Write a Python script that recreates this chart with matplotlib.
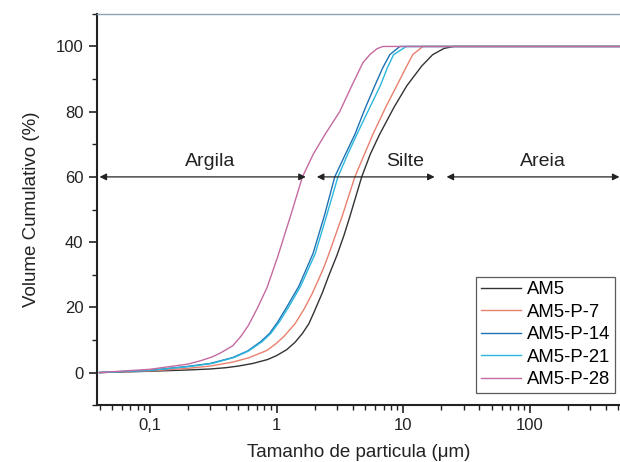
import matplotlib
matplotlib.use("Agg")
import matplotlib.pyplot as plt
from matplotlib.ticker import FixedLocator, LogLocator, MultipleLocator, NullFormatter

plt.rcParams['font.family'] = ['Liberation Sans', 'DejaVu Sans']

# Data (size in µm, cumulative volume %)
am5_x = [0.04, 0.1, 0.2, 0.3, 0.4, 0.5, 0.65, 0.85, 1.0, 1.2, 1.4, 1.6, 1.8, 2.0, 2.3, 2.6, 3.0, 3.4, 3.8, 4.7, 5.5, 6.5, 8.5, 10.7, 14.0, 17.1, 21.0, 25.0, 510]
am5_y = [0, 0.4, 0.8, 1.1, 1.5, 2.0, 2.8, 4.0, 5.2, 7.0, 9.3, 12.0, 15.0, 19, 24.5, 30, 36, 42, 48, 60, 67, 73, 81.5, 88, 94, 97.5, 99.4, 100, 100]

p7_x = [0.04, 0.1, 0.2, 0.3, 0.45, 0.6, 0.84, 1.0, 1.15, 1.4, 1.65, 1.9, 2.32, 2.54, 3.3, 4.15, 5.75, 7.3, 8.9, 10.5, 11.9, 14.3, 510]
p7_y = [0, 0.5, 1.3, 2.0, 3.2, 4.5, 6.8, 9.0, 11.2, 15, 19.5, 24, 31.5, 35.5, 48, 60, 73, 81.5, 88, 93.5, 97.5, 100, 100]

p14_x = [0.04, 0.1, 0.2, 0.3, 0.45, 0.59, 0.75, 0.88, 1.02, 1.2, 1.5, 1.94, 2.4, 2.88, 3.5, 4.15, 5.0, 5.97, 6.9, 7.84, 9.4, 510]
p14_y = [0, 0.7, 1.9, 2.8, 4.6, 6.6, 9.5, 12, 15.5, 20, 26.5, 36.5, 48.5, 60, 67, 73, 81, 88, 93.5, 97.5, 100, 100]

p21_x = [0.04, 0.1, 0.2, 0.31, 0.46, 0.6, 0.77, 0.9, 1.05, 1.24, 1.55, 2.02, 2.5, 3.05, 3.65, 4.3, 5.4, 6.6, 7.5, 8.4, 10.6, 510]
p21_y = [0, 0.7, 1.8, 2.8, 4.6, 6.6, 9.5, 12, 15.5, 20, 26.5, 36.5, 48.5, 60, 67, 73, 81, 88, 93.5, 97.5, 100, 100]

p28_x = [0.04, 0.1, 0.2, 0.25, 0.31, 0.36, 0.45, 0.52, 0.6, 0.7, 0.84, 1.02, 1.3, 1.6, 1.95, 2.41, 3.15, 3.93, 4.8, 5.45, 6.2, 6.9, 510]
p28_y = [0, 1.0, 2.6, 3.6, 4.8, 6.0, 8.2, 11, 14.5, 19.5, 26, 35.5, 48.5, 60, 67, 73, 80, 88, 95, 97.5, 99.3, 100, 100]

series_names = ['AM5', 'AM5-P-7', 'AM5-P-14', 'AM5-P-21', 'AM5-P-28']
series_x = [am5_x, p7_x, p14_x, p21_x, p28_x]
series_y = [am5_y, p7_y, p14_y, p21_y, p28_y]
colors = ['#333333', '#e8806e', '#1f72b4', '#2ab6dc', '#c46aa0']

xticks = [0.1, 1, 10, 100]
xticklabels = ['0,1', '1', '10', '100']
yticks = [0, 20, 40, 60, 80, 100]

# Size class ranges (µm)
classes = ['Argila', 'Silte', 'Areia']
class_ranges = [(0.04, 1.7), (2.08, 17.7), (22.0, 510)]
class_text_x = [0.30, 10.3, 126]
class_level = 60

fig = plt.figure(figsize=(6.2, 4.62), dpi=100)
ax = fig.add_axes([0.156, 0.123, 0.844, 0.847])

for name, xs, ys, c in zip(series_names, series_x, series_y, colors):
    ax.plot(xs, ys, color=c, lw=1.0, label=name)

ax.set_xscale('log')
ax.set_xlim(0.038, 515)
ax.set_ylim(-10, 110)

ax.xaxis.set_major_locator(FixedLocator(xticks))
ax.set_xticklabels(xticklabels)
ax.xaxis.set_minor_locator(LogLocator(base=10, subs=[2, 3, 4, 5, 6, 7, 8, 9], numticks=20))
ax.xaxis.set_minor_formatter(NullFormatter())
ax.set_yticks(yticks)
ax.yaxis.set_minor_locator(MultipleLocator(10))

ax.tick_params(which='major', direction='out', length=6, width=1.2, labelsize=12, colors='#222222')
ax.tick_params(which='minor', direction='out', length=3.5, width=1.0, colors='#222222')
ax.tick_params(top=False, right=False, which='both')

ax.spines['right'].set_visible(False)
ax.spines['top'].set_color('#8fa3b3')
ax.spines['top'].set_linewidth(1.0)
ax.spines['left'].set_linewidth(1.5)
ax.spines['bottom'].set_linewidth(1.5)
ax.spines['left'].set_color('#222222')
ax.spines['bottom'].set_color('#222222')

for (x0, x1) in class_ranges:
    ax.annotate('', xy=(x0, class_level), xytext=(x1, class_level),
                arrowprops=dict(arrowstyle='<|-|>', color='#222222', lw=0.9,
                                mutation_scale=10, shrinkA=0, shrinkB=0))
for label, tx in zip(classes, class_text_x):
    ax.text(tx, class_level + 2.0, label, ha='center', va='bottom', fontsize=14, color='#222222')

ax.set_ylabel('Volume Cumulativo (%)', fontsize=13.5, color='#222222', labelpad=11)
ax.set_xlabel('Tamanho de particula (μm)', fontsize=13.5, color='#222222', labelpad=8)

leg = ax.legend(loc='lower right', bbox_to_anchor=(0.99, 0.031), fontsize=13.3,
                frameon=True, fancybox=False, edgecolor='#333333', handlelength=2.2,
                handletextpad=0.3, borderpad=0.25, labelspacing=0.3, borderaxespad=0)
leg.get_frame().set_linewidth(0.9)

fig.savefig('out.png', dpi=100)
